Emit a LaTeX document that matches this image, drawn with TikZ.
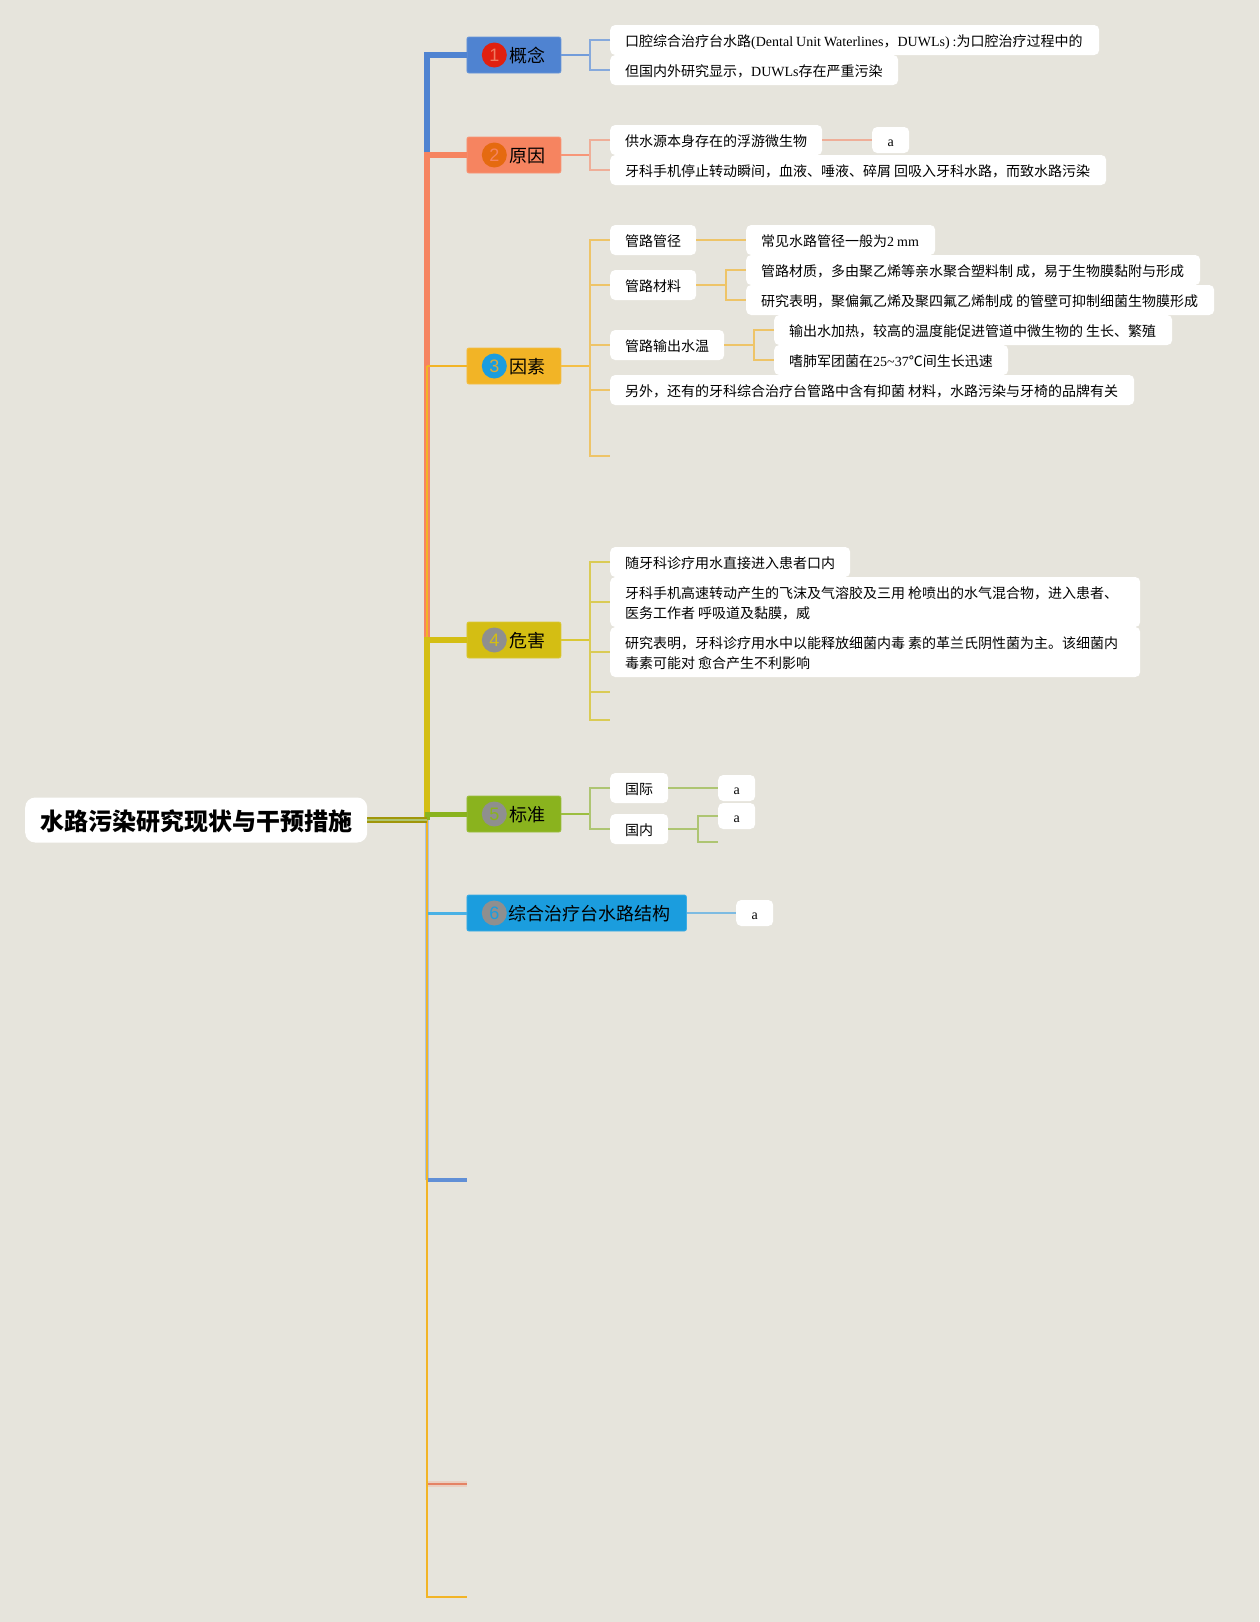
\documentclass[tikz,border=0pt]{standalone}
\usepackage{fontspec}
\setmainfont{Liberation Serif}
\newfontfamily\cjk{Noto Sans CJK SC}
\newfontfamily\numfont{Liberation Sans}
\newcommand{\C}[1]{{\cjk #1}}
\newbox\mylinebox
\newcommand{\Ln}[1]{\setbox\mylinebox=\hbox{\spaceskip=3pt\relax\lower2.9pt\hbox{#1}}\ht\mylinebox=10pt \dp\mylinebox=3pt \leavevmode\box\mylinebox}
\newcommand{\Lf}[1]{\setbox\mylinebox=\hbox{\lower3pt\hbox{#1}}\ht\mylinebox=10pt \dp\mylinebox=3pt \leavevmode\box\mylinebox}
\definecolor{bgc}{HTML}{E6E4DC}
\definecolor{cblue}{HTML}{4F83D1}
\definecolor{csalmon}{HTML}{F68460}
\definecolor{corange}{HTML}{F2B426}
\definecolor{cyellow}{HTML}{D4BE13}
\definecolor{cgreen}{HTML}{8AB31E}
\definecolor{ccyan}{HTML}{1B9DDE}
\definecolor{lblue}{HTML}{86A9DC}
\definecolor{lsalmon}{HTML}{EFAE98}
\definecolor{lorange}{HTML}{EEC468}
\definecolor{lyellow}{HTML}{DACB55}
\definecolor{lgreen}{HTML}{AEC572}
\definecolor{lcyan}{HTML}{7DBBE2}
\definecolor{cgray}{HTML}{8F8F8F}
\definecolor{paleblue}{HTML}{A9C5E2}
\definecolor{bred}{HTML}{E0200F}
\definecolor{bor}{HTML}{E56A10}
\definecolor{nred}{HTML}{EE7B60}
\tikzset{
  note/.style={fill=white,rounded corners=5pt,anchor=west,inner xsep=0pt,inner ysep=0pt,
    text width=#1pt-30pt,minimum width=#1pt,align=left,
    font=\fontsize{14}{20.5}\selectfont,minimum height=30pt},
  note2/.style={note=#1,minimum height=50pt},
  leaf/.style={fill=white,rounded corners=5pt,anchor=west,inner sep=0pt,minimum width=37pt,
    minimum height=26pt,font=\fontsize{14}{20}\selectfont},
  topic/.style 2 args={fill=#2,draw=#2!85!white,line width=0.8pt,rounded corners=2pt,anchor=west,inner xsep=0pt,inner ysep=0pt,
    text width=#1pt-31pt,minimum width=#1pt,minimum height=36pt,align=right,text depth=-5pt,font=\fontsize{18}{22}\cjk},
  badge/.style={circle,inner sep=0pt,minimum size=25pt,font=\fontsize{18}{22}\numfont},
  sb/.style={line width=1.6pt,draw=#1},
  st/.style={line width=2pt,draw=#1},
}
\begin{document}
\begin{tikzpicture}[x=1pt,y=-1pt]
\useasboundingbox (0,0) rectangle (1259,1622);
\fill[bgc] (0,0) rectangle (1259,1622);
% root
\node[fill=white,rounded corners=10pt,anchor=west,inner sep=0pt,minimum width=342pt,minimum height=45pt,text depth=-1pt,font=\fontsize{24}{30}\cjk\bfseries] (root) at (25,820) {水路污染研究现状与干预措施};
% topics
\node[topic={94}{cblue}] (t1) at (466.5,55) {概念};
\node[topic={94}{csalmon}] (t2) at (466.5,155) {原因};
\node[topic={94}{corange}] (t3) at (466.5,366) {因素};
\node[topic={94}{cyellow}] (t4) at (466.5,640) {危害};
\node[topic={94}{cgreen}] (t5) at (466.5,814) {标准};
\node[topic={219.5}{ccyan}] (t6) at (466.5,913) {综合治疗台水路结构};
% badges
\node[badge,fill=bred,text=nred] (b1) at (494.3,55) {1};
\node[badge,fill=bor,text=csalmon] (b2) at (494.3,155) {2};
\node[badge,fill=ccyan,text=corange!80!gray] (b3) at (494.3,366) {3};
\node[badge,fill=cgray,text=cyellow] (b4) at (494.3,640) {4};
\node[badge,fill=cgray,text=cgreen] (b5) at (494.3,814) {5};
\node[badge,fill=cgray,text=ccyan] (b6) at (494.3,913) {6};
% notes
\node[note=489] (n11) at (610,40) {\Ln{\C{口腔综合治疗台水路}(Dental Unit Waterlines\C{，}DUWLs) :\C{为口腔治疗过程中的}}};
\node[note=288] (n12) at (610,70) {\Ln{\C{但国内外研究显示，}DUWLs\C{存在严重污染}}};
\node[note=212] (n21) at (610,140) {\Ln{\C{供水源本身存在的浮游微生物}}};
\node[leaf] (n21a) at (872,140) {\Lf{a}};
\node[note=496] (n22) at (610,170) {\Ln{\C{牙科手机停止转动瞬间，血液、唾液、碎屑} \C{回吸入牙科水路，而致水路污染}}};
\node[note=86] (n31) at (610,240) {\Ln{\C{管路管径}}};
\node[note=189] (n31a) at (746,240) {\Ln{\C{常见水路管径一般为}2 mm}};
\node[note=86] (n32) at (610,285) {\Ln{\C{管路材料}}};
\node[note=454] (n32a) at (746,270) {\Ln{\C{管路材质，多由聚乙烯等亲水聚合塑料制} \C{成，易于生物膜黏附与形成}}};
\node[note=468] (n32b) at (746,300) {\Ln{\C{研究表明，聚偏氟乙烯及聚四氟乙烯制成} \C{的管壁可抑制细菌生物膜形成}}};
\node[note=114] (n33) at (610,345) {\Ln{\C{管路输出水温}}};
\node[note=398] (n33a) at (774,330) {\Ln{\C{输出水加热，较高的温度能促进管道中微生物的} \C{生长、繁殖}}};
\node[note=234] (n33b) at (774,360) {\Ln{\C{嗜肺军团菌在}25\textasciitilde 37\C{℃间生长迅速}}};
\node[note=524] (n34) at (610,390) {\Ln{\C{另外，还有的牙科综合治疗台管路中含有抑菌} \C{材料，水路污染与牙椅的品牌有关}}};
\node[note=240] (n41) at (610,562) {\Ln{\C{随牙科诊疗用水直接进入患者口内}}};
\node[note2=530] (n42) at (610,602) {\Ln{\C{牙科手机高速转动产生的飞沫及气溶胶及三用} \C{枪喷出的水气混合物，进入患者、}}\\\Ln{\C{医务工作者} \C{呼吸道及黏膜，威}}};
\node[note2=530] (n43) at (610,652) {\Ln{\C{研究表明，牙科诊疗用水中以能释放细菌内毒} \C{素的革兰氏阴性菌为主。该细菌内}}\\\Ln{\C{毒素可能对} \C{愈合产生不利影响}}};
\node[note=58] (n51) at (610,788) {\Ln{\C{国际}}};
\node[leaf] (n51a) at (718,788) {\Lf{a}};
\node[note=58] (n52) at (610,829) {\Ln{\C{国内}}};
\node[leaf] (n52a) at (718,816) {\Lf{a}};
\node[leaf] (n6a) at (736,913) {\Lf{a}};
% coordinates
\coordinate (tr) at (427,820);
\coordinate (c7) at (427,1180);
\coordinate (e7) at (466.5,1180);
\coordinate (e8) at (466.5,1484);
\coordinate (e9) at (466.5,1597);
\coordinate (e1) at (590,55);
\coordinate (e2) at (590,155);
\coordinate (e3) at (590,366);
\coordinate (e4) at (590,640);
\coordinate (e5) at (590,814);
\coordinate (e32) at (726,285);
\coordinate (e33) at (754,345);
\coordinate (e52) at (698,829);
\coordinate (x3) at (610,456);
\coordinate (x41) at (610,692);
\coordinate (x42) at (610,720);
\coordinate (x52) at (718,842);
% trunk
\draw[line width=4pt,draw=paleblue] (tr) -- (c7);
\draw[line width=3.5pt,draw=cblue!90!white] (c7) -- (e7);
\draw[line width=3pt,draw=ccyan!80!white] (tr |- t6.west) -- (t6.west);
\draw[line width=6pt,draw=cblue] (tr) |- (t1.west);
\draw[line width=6pt,draw=csalmon] (tr) |- (t2.west);
\draw[line width=6pt,draw=csalmon!22!bgc] (tr |- e8) -- (e8);
\draw[line width=2pt,draw=csalmon!85!gray] (tr |- e8) -- (e8);
\draw[line width=2.2pt,draw=corange] (tr |- t3.west) -- (t3.west);
\draw[line width=2.2pt,draw=corange] (tr |- t3.west) -- (tr |- e9) -- (e9);
\draw[line width=6pt,draw=cyellow] (tr) |- (t4.west);
\draw[line width=5pt,draw=cgreen] (tr) |- (t5.west);
\draw[line width=6pt,draw=olive!75!cyellow] (root.east) -- (tr);
\draw[line width=2.4pt,draw=lgreen] (root.east) -- (tr);
% branch 1
\draw[st=cblue!80!white] (t1.east) -- (e1);
\draw[sb=lblue] (n11.west) -| (e1) |- (n12.west);
% branch 2
\draw[st=csalmon!85!white] (t2.east) -- (e2);
\draw[sb=lsalmon] (n21.west) -| (e2) |- (n22.west);
\draw[sb=lsalmon] (n21.east) -- (n21a.west);
% branch 3
\draw[st=corange!85!white] (t3.east) -- (e3);
\draw[sb=lorange] (n31.west) -| (e3) |- (x3);
\draw[sb=lorange] (e3 |- n32.west) -- (n32.west);
\draw[sb=lorange] (e3 |- n33.west) -- (n33.west);
\draw[sb=lorange] (e3 |- n34.west) -- (n34.west);
\draw[sb=lorange] (n31.east) -- (n31a.west);
\draw[st=lorange] (n32.east) -- (e32);
\draw[sb=lorange] (n32a.west) -| (e32) |- (n32b.west);
\draw[st=lorange] (n33.east) -- (e33);
\draw[sb=lorange] (n33a.west) -| (e33) |- (n33b.west);
% branch 4
\draw[st=cyellow!85!white] (t4.east) -- (e4);
\draw[sb=lyellow] (n41.west) -| (e4) |- (x42);
\draw[sb=lyellow] (e4 |- n42.west) -- (n42.west);
\draw[sb=lyellow] (e4 |- n43.west) -- (n43.west);
\draw[sb=lyellow] (e4 |- x41) -- (x41);
% branch 5
\draw[st=cgreen!85!white] (t5.east) -- (e5);
\draw[sb=lgreen] (n51.west) -| (e5) |- (n52.west);
\draw[sb=lgreen] (n51.east) -- (n51a.west);
\draw[st=lgreen] (n52.east) -- (e52);
\draw[sb=lgreen] (n52a.west) -| (e52) |- (x52);
% branch 6
\draw[sb=lcyan] (t6.east) -- (n6a.west);
\end{tikzpicture}
\end{document}
